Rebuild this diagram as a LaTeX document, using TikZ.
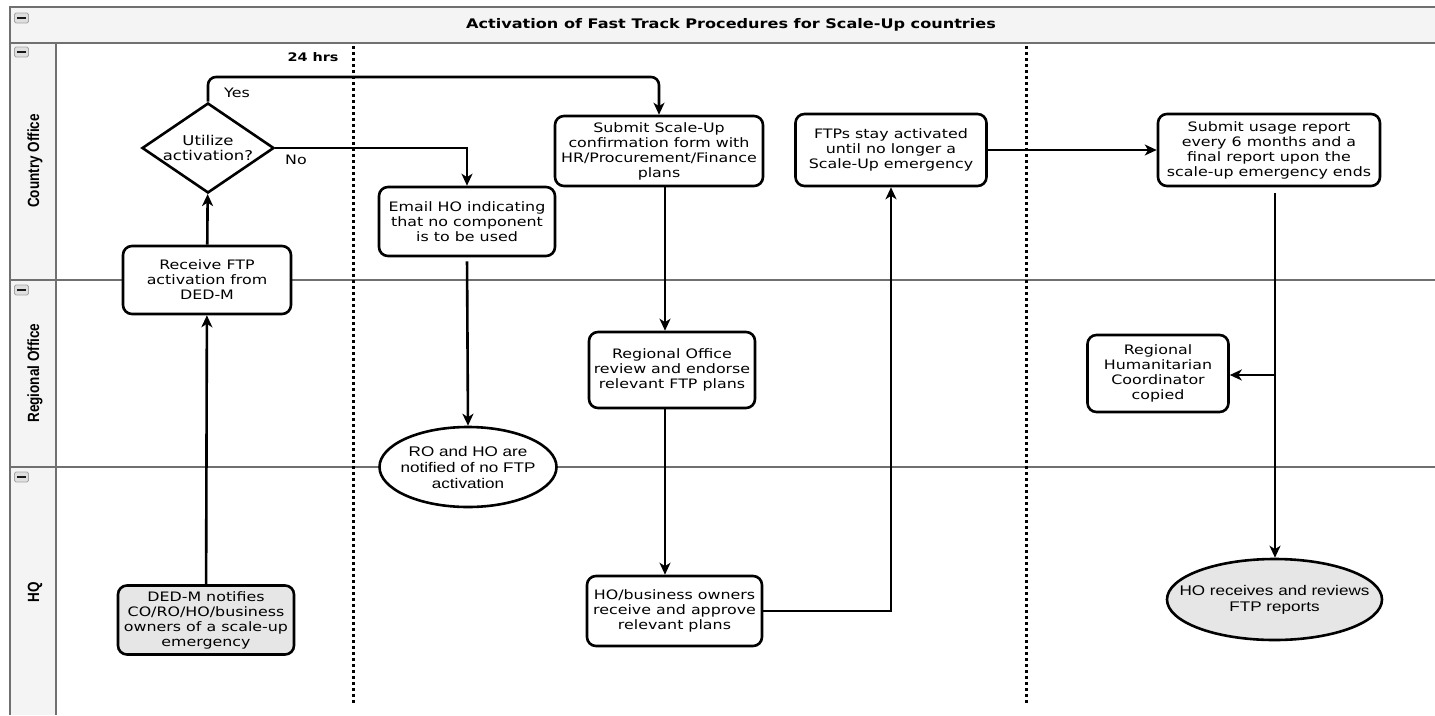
\documentclass[tikz,border=0pt]{standalone}
\usepackage{fontspec}
\usepackage{graphicx}
\setmainfont{DejaVu Sans}[FakeStretch=1.22]
\newfontfamily\arialf{Liberation Sans}[FakeStretch=1.22]
\newfontfamily\lanef{Liberation Sans}
\usetikzlibrary{shapes.geometric,arrows.meta}
\definecolor{lanegray}{HTML}{707070}
\definecolor{headfill}{HTML}{F4F4F4}
\definecolor{nodegray}{HTML}{E6E6E6}
\tikzset{
  proc/.style={draw, line width=2.6pt, rounded corners=9pt, align=center, inner sep=1pt, fill=white,
    font=\fontsize{13}{15}\selectfont},
  oval/.style={draw, ellipse, line width=2.6pt, align=center, inner xsep=-40pt, inner ysep=-12pt, fill=white,
    font=\arialf\fontsize{14}{16}\selectfont},
  decis/.style={draw, diamond, aspect=1.47, line width=2.6pt, align=center, inner sep=0pt, fill=white,
    minimum width=132pt, minimum height=90pt, font=\fontsize{13.5}{15.5}\selectfont},
  arr/.style={line width=2.6pt, -{Stealth[length=12pt,width=11pt,inset=3.5pt]}},
  lbl/.style={font=\fontsize{13}{15}\selectfont, inner sep=0pt},
  lanelbl/.style={font=\lanef\bfseries\fontsize{13.5}{15}\selectfont, rotate=90, inner sep=0pt},
  laneline/.style={draw=lanegray, line width=2.4pt},
  sepline/.style={draw=black, line width=3pt, dash pattern=on 3pt off 3pt},
  minusicon/.style={draw=gray!70, fill=gray!25, rounded corners=1.5pt, line width=0.8pt,
    minimum width=14pt, minimum height=10pt, inner sep=0pt}
}
\begin{document}
\begin{tikzpicture}[x=1pt,y=-1pt]
\useasboundingbox (0,0) rectangle (1435,715);
% pool backgrounds
\fill[headfill] (10,7) rectangle (1435,43);
\fill[headfill] (10,43) rectangle (56,715);
% lane lines
\draw[laneline] (1435,7) -- (10,7) -- (10,715);
\draw[laneline] (10,43) -- (1435,43);
\draw[laneline] (56,43) -- (56,715);
\draw[laneline] (10,280) -- (1435,280);
\draw[laneline] (10,467) -- (1435,467);
% minus icons
\foreach \yy/\nm in {18/ia,52/ib,290/ic,477/id}{
  \node[minusicon] (\nm) at (21.5,\yy) {};
  \draw[gray!20!black, line width=1.3pt] ([xshift=3pt]\nm.west) -- ([xshift=-3pt]\nm.east);
}
% title and lane labels
\node[font=\bfseries\fontsize{13.2}{15}\selectfont, inner sep=0pt] (title) at (731,25) {Activation of Fast Track Procedures for Scale-Up countries};
\node[lanelbl] (lco) at (35,161) {\scalebox{1}[1.2]{Country Office}};
\node[lanelbl] (lro) at (35,373) {\scalebox{1}[1.2]{Regional Office}};
\node[lanelbl] (lhq) at (35,592) {\scalebox{1}[1.2]{HQ}};
% time separators
\coordinate (s1t) at (353,46); \coordinate (s1b) at (353,705);
\coordinate (s2t) at (1026,46); \coordinate (s2b) at (1026,705);
\draw[sepline] (s1t) -- (s1b);
\draw[sepline] (s2t) -- (s2b);
\node[font=\bfseries\fontsize{11.8}{13}\selectfont, inner sep=0pt] (hrs) at (313,57) {24 hrs};
% nodes
\node[decis] (dec) at (208,148) {Utilize\\activation?};
\node[proc, minimum width=168pt, minimum height=68pt] (recv) at (207,280) {Receive FTP\\activation from\\DED-M};
\node[proc, fill=nodegray, minimum width=176pt, minimum height=69pt] (ded) at (206,620) {DED-M notifies\\CO/RO/HO/business\\owners of a scale-up\\emergency};
\node[proc, minimum width=176pt, minimum height=69pt] (email) at (467,221.5) {Email HO indicating\\that no component\\is to be used};
\node[oval, minimum width=177pt, minimum height=80pt] (ro) at (468,467) {RO and HO are\\notified of no FTP\\activation};
\node[proc, minimum width=208pt, minimum height=70pt] (submit) at (659,151) {Submit Scale-Up\\confirmation form with\\HR/Procurement/Finance\\plans};
\node[proc, minimum width=166pt, minimum height=76pt] (review) at (672,370) {Regional Office\\review and endorse\\relevant FTP plans};
\node[proc, minimum width=175pt, minimum height=70pt] (hobiz) at (674.5,611) {HO/business owners\\receive and approve\\relevant plans};
\node[proc, minimum width=191pt, minimum height=72pt] (ftps) at (891,150) {FTPs stay activated\\until no longer a\\Scale-Up emergency};
\node[proc, minimum width=222pt, minimum height=72pt] (usage) at (1269,150) {Submit usage report\\every 6 months and a\\final report upon the\\scale-up emergency ends};
\node[proc, minimum width=141pt, minimum height=77pt] (rhc) at (1158,373.5) {Regional\\Humanitarian\\Coordinator\\copied};
\node[oval, fill=nodegray, minimum width=215pt, minimum height=81pt] (hor) at (1274.5,599.5) {HO receives and reviews\\FTP reports};
% connectors
\coordinate (yesy) at (0,77);
\coordinate (trunk) at (665,0);
\coordinate (rtrunk) at (1275,0);
\coordinate (br) at (1275,375);
\draw[arr] (ded) -- (recv);
\draw[arr] (recv) -- (dec);
\draw[arr, rounded corners=8pt] (dec.north) -- (dec.north |- yesy) -| (submit.north);
\node[lbl] (yes) at (237,93) {Yes};
\draw[arr] (dec.east) -| (email.north);
\node[lbl] (no) at (296,160) {No};
\draw[arr, shorten <=4pt] (email.south) -- (ro.north);
\draw[arr] (submit.south -| trunk) -- (review.north -| trunk);
\draw[arr] (review.south -| trunk) -- (hobiz.north -| trunk);
\draw[arr] (hobiz.east) -| (ftps.south);
\draw[arr] (ftps.east) -- (usage.west);
\draw[arr, shorten <=6pt] (usage.south -| rtrunk) -- (hor.north -| rtrunk);
\draw[arr] (br) -- (rhc.east |- br);
\end{tikzpicture}
\end{document}
